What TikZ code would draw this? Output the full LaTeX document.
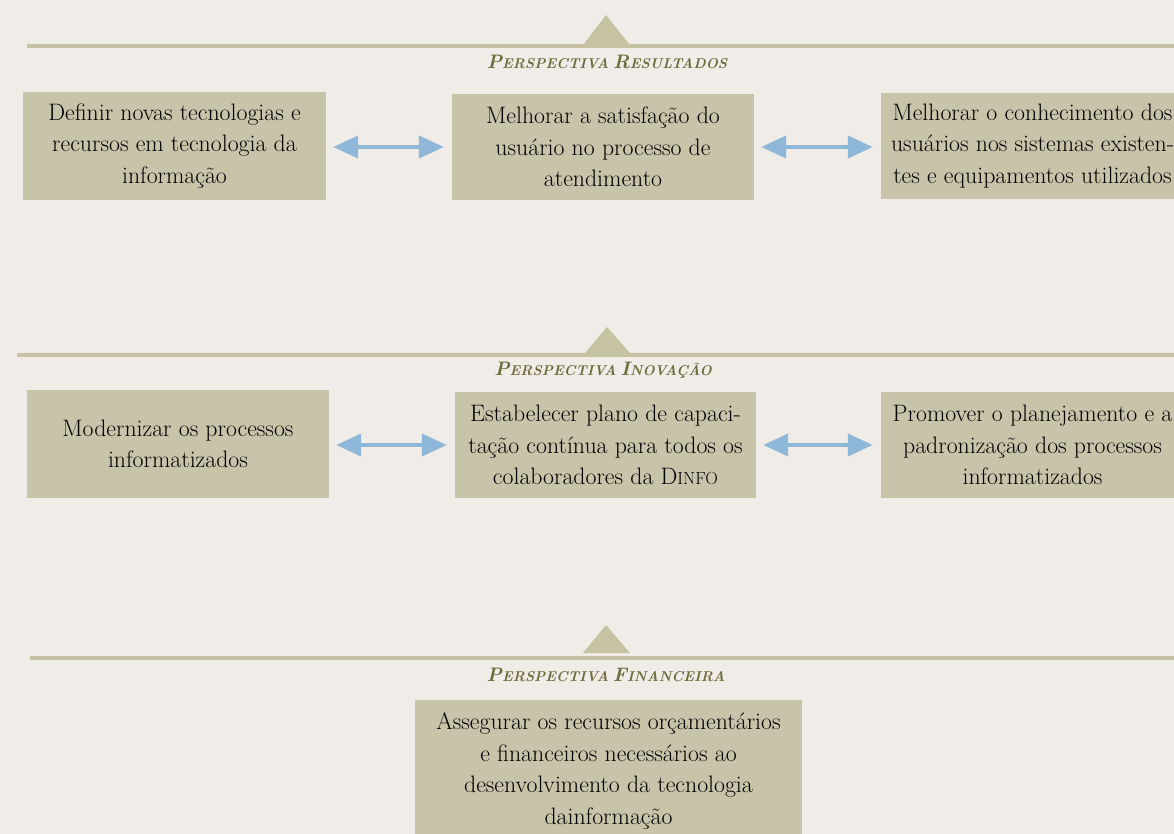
\documentclass[tikz,border=0pt]{standalone}
\usetikzlibrary{arrows.meta}

\definecolor{paper}{HTML}{F0ECE7}
\definecolor{boxfill}{HTML}{C8C4AA}
\definecolor{rulecol}{HTML}{C6C2A2}
\definecolor{arrowcol}{HTML}{8FB7D8}
\definecolor{labelcol}{HTML}{6F6C3E}

% hand-made italic small caps for the perspective titles
\newcommand{\capword}[2]{{\fontsize{19.5}{19.5}\selectfont #1}{\fontsize{14.2}{14.2}\selectfont #2}}
% upright small caps inside box text
\newcommand{\smallword}[2]{#1{\fontsize{17.5}{17.5}\selectfont #2}}

\tikzset{
  objbox/.style={fill=boxfill, draw=none, align=center, inner sep=0pt,
    font=\fontsize{23.8}{31.5}\selectfont},
  persptitle/.style={text=labelcol, inner sep=0pt, font=\bfseries\itshape},
  rule/.style={draw=rulecol, line width=4.5pt},
  marker/.style={fill=rulecol},
  biarrow/.style={draw=arrowcol, line width=4pt,
    {Triangle[length=25pt,width=22pt]}-{Triangle[length=25pt,width=22pt]},
    shorten <=7pt, shorten >=8pt},
}

\begin{document}
\begin{tikzpicture}[x=1pt,y=-1pt]
  \fill[paper] (0,0) rectangle (1174,834);
  \useasboundingbox (0,0) rectangle (1174,834);
  \clip (0,0) rectangle (1174,834);

  % ---- Perspectiva Resultados ----
  \fill[marker] (584,44) -- (606,15) -- (629,44) -- cycle;
  \path[rule] (27,46) -- (1174,46);
  \node[persptitle] (t1) at (607,62) {\capword{P}{ERSPECTIVA} \capword{R}{ESULTADOS}};

  \node[objbox, minimum width=303pt, minimum height=108pt] (a) at (174.5,146)
    {Definir novas tecnologias e\\recursos em tecnologia da\\informação};
  \node[objbox, minimum width=302pt, minimum height=106pt] (b) at (603,147)
    {Melhorar a satisfação do\\usuário no processo de\\atendimento};
  \node[objbox, minimum width=303pt, minimum height=106pt] (c) at (1032.5,146)
    {Melhorar o conhecimento dos\\usuários nos sistemas existen-\\tes e equipamentos utilizados};

  \draw[biarrow] (a.east |- 0,147) -- (b.west |- 0,147);
  \draw[biarrow] (b.east |- 0,147) -- (c.west |- 0,147);

  % ---- Perspectiva Inovação ----
  \fill[marker] (585,353) -- (607,327) -- (630,353) -- cycle;
  \path[rule] (17,355) -- (1174,355);
  \node[persptitle] (t2) at (603,370) {\capword{P}{ERSPECTIVA} \capword{I}{NOVAÇÃO}};

  \node[objbox, minimum width=302pt, minimum height=108pt] (d) at (178,444)
    {Modernizar os processos\\informatizados};
  \node[objbox, minimum width=301pt, minimum height=106pt] (e) at (605.5,445)
    {Estabelecer plano de capaci-\\tação contínua para todos os\\colaboradores da \smallword{D}{INFO}};
  \node[objbox, minimum width=303pt, minimum height=106pt] (f) at (1032.5,445)
    {Promover o planejamento e a\\padronização dos processos\\informatizados};

  \draw[biarrow] (d.east |- 0,445) -- (e.west |- 0,445);
  \draw[biarrow] (e.east |- 0,445) -- (f.west |- 0,445);

  % ---- Perspectiva Financeira ----
  \fill[marker] (583,653) -- (606,625) -- (630,653) -- cycle;
  \path[rule] (30,658) -- (1174,658);
  \node[persptitle] (t3) at (606,675) {\capword{P}{ERSPECTIVA} \capword{F}{INANCEIRA}};

  \node[objbox, minimum width=387pt, minimum height=142pt] (g) at (608.5,771)
    {Assegurar os recursos orçamentários\\e financeiros necessários ao\\desenvolvimento da tecnologia\\dainformação};
\end{tikzpicture}
\end{document}
